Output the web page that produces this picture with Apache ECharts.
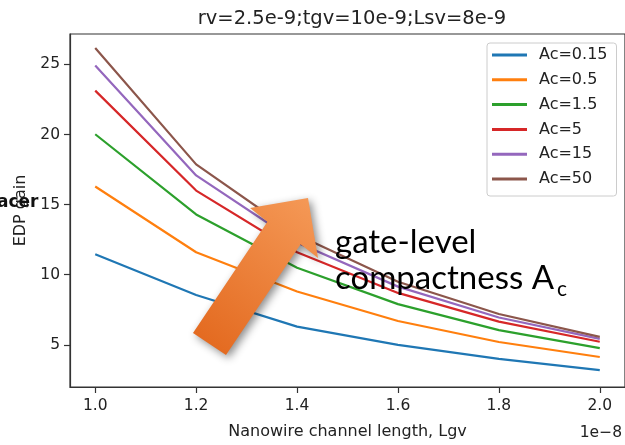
<!DOCTYPE html>
<html>
<head>
<meta charset="utf-8">
<script src="https://cdn.jsdelivr.net/npm/echarts@6/dist/echarts.min.js"></script>
<style>
html,body{margin:0;padding:0;background:#fff;}
#chart{width:625px;height:445px;}
</style>
</head>
<body>
<div id="chart"></div>
<script>
const lgv = [1.0, 1.2, 1.4, 1.6, 1.8, 2.0];
const seriesNames = ['Ac=0.15', 'Ac=0.5', 'Ac=1.5', 'Ac=5', 'Ac=15', 'Ac=50'];
const ac015 = [11.46, 8.55, 6.3, 5.0, 4.0, 3.2];
const ac05  = [16.29, 11.6, 8.8, 6.7, 5.2, 4.13];
const ac15  = [20.02, 14.3, 10.5, 7.9, 6.05, 4.76];
const ac5   = [23.13, 16.0, 11.6, 8.7, 6.65, 5.22];
const ac15b = [24.93, 17.08, 12.3, 9.15, 6.95, 5.42];
const ac50  = [26.17, 17.87, 12.85, 9.5, 7.2, 5.57];
const yTicks = [5, 10, 15, 20, 25];
const xTicks = [1.0, 1.2, 1.4, 1.6, 1.8, 2.0];
const colors = ['#1f77b4', '#ff7f0e', '#2ca02c', '#d62728', '#9467bd', '#8c564b'];
const allValues = [ac015, ac05, ac15, ac5, ac15b, ac50];

const chart = echarts.init(document.getElementById('chart'));
const font = 'DejaVu Sans';
const series = allValues.map((vals, i) => ({
  name: seriesNames[i],
  type: 'line',
  data: lgv.map((x, j) => [x, vals[j]]),
  showSymbol: false,
  symbol: 'none',
  lineStyle: {color: colors[i], width: 2.2},
  itemStyle: {color: colors[i]},
  z: 2
}));

chart.setOption({
  animation: false,
  title: {
    text: 'rv=2.5e-9;tgv=10e-9;Lsv=8e-9',
    left: 347, top: 4, textAlign: 'center',
    textStyle: {fontFamily: font, fontSize: 19.5, fontWeight: 'normal', color: '#222'}
  },
  grid: {left: 70, top: 34, right: -1, bottom: 51, show: true, borderColor: '#333', borderWidth: 1.2, backgroundColor: 'transparent'},
  xAxis: {
    type: 'value', min: 0.95, max: 2.05,
    name: 'Nanowire channel length, Lgv', nameLocation: 'middle', nameGap: 37,
    nameTextStyle: {fontFamily: font, fontSize: 16, color: '#222'},
    axisLine: {show: true, lineStyle: {color: '#333', width: 1.2}},
    axisTick: {show: true, inside: false, length: 6, lineStyle: {color: '#333', width: 1.2}, customValues: xTicks},
    axisLabel: {fontFamily: font, fontSize: 15.5, color: '#222', margin: 11, customValues: xTicks, formatter: v => v.toFixed(1)},
    splitLine: {show: false}
  },
  yAxis: {
    type: 'value', min: 1.99, max: 27.17,
    name: 'EDP gain', nameLocation: 'middle', nameGap: 41, nameRotate: 90,
    nameTextStyle: {fontFamily: font, fontSize: 16, color: '#222'},
    axisLine: {show: true, lineStyle: {color: '#333', width: 1.2}},
    axisTick: {show: true, inside: false, length: 6, lineStyle: {color: '#333', width: 1.2}, customValues: yTicks},
    axisLabel: {fontFamily: font, fontSize: 15.5, color: '#222', margin: 10, customValues: yTicks},
    splitLine: {show: false}
  },
  legend: {
    orient: 'vertical', left: 487, top: 43,
    data: seriesNames,
    icon: 'rect', itemWidth: 35, itemHeight: 3, itemGap: 8.8,
    padding: [4, 9, 9, 5],
    textStyle: {fontFamily: font, fontSize: 16, color: '#222', lineHeight: 16, padding: [0, 0, 0, 7]},
    borderColor: '#cccccc', borderWidth: 1, borderRadius: 3,
    backgroundColor: 'rgba(255,255,255,0.85)'
  },
  graphic: [
    {
      type: 'text', left: -3, top: 194, z: 10,
      style: {text: 'acer', font: 'bold 17px "DejaVu Sans"', fill: '#111'}
    },
    {
      type: 'polygon', z: 20,
      shape: {points: [[308,198],[318,258],[300.6,244.2],[226,355],[193,333],[267.4,221.8],[250,208]]},
      style: {
        fill: new echarts.graphic.LinearGradient(1, 0, 0, 1, [
          {offset: 0, color: '#f59a58'},
          {offset: 1, color: '#e2661b'}
        ]),
        shadowBlur: 8, shadowColor: 'rgba(0,0,0,0.45)', shadowOffsetX: 3, shadowOffsetY: 3
      }
    },
    {
      type: 'text', left: 335, top: 226, z: 21,
      style: {text: 'gate-level', font: '33px Lato', fill: '#000'}
    },
    {
      type: 'text', left: 335, top: 262, z: 21,
      style: {text: 'compactness A', font: '33px Lato', fill: '#000'}
    },
    {
      type: 'text', left: 557, top: 279, z: 21,
      style: {text: 'c', font: '21px Lato', fill: '#000'}
    },
    {
      type: 'text', right: 3, top: 425, z: 10,
      style: {text: '1e\u22128', font: '15.5px "DejaVu Sans"', fill: '#222'}
    }
  ],
  series: series
});
</script>
</body>
</html>
